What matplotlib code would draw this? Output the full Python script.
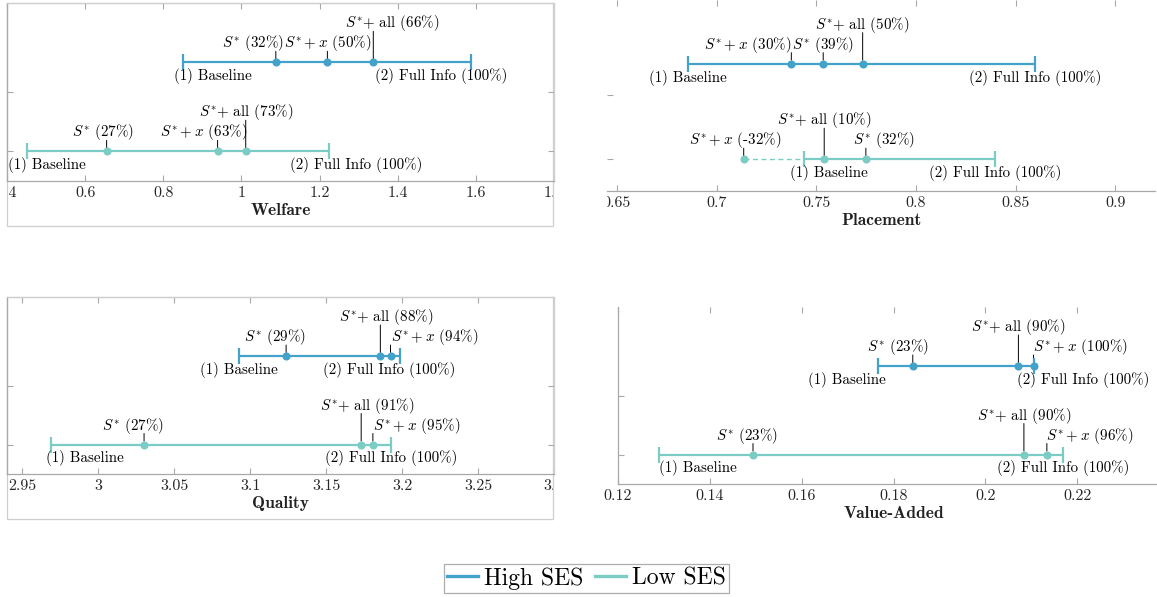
import matplotlib
matplotlib.use('Agg')
import matplotlib.pyplot as plt
from matplotlib.lines import Line2D
from matplotlib.patches import Rectangle
from matplotlib.transforms import Bbox, TransformedBbox

plt.rcParams['font.family'] = ['cmr10']
plt.rcParams['mathtext.fontset'] = 'cm'
plt.rcParams['axes.formatter.use_mathtext'] = True
plt.rcParams['axes.unicode_minus'] = False

W, H = 1157, 597
BLUE = '#43a2ca'
TEAL = '#7bccc4'
SPINE = '#a8a8a8'
SPINE_LIGHT = '#cfcfcf'
TICKTXT = '#262626'
FS = 10.8

groups = ['High SES', 'Low SES']

# ---------------- data (index 0 = High SES, 1 = Low SES) ----------------
welfare_baseline = [0.850, 0.451]
welfare_full = [1.588, 1.223]
welfare_sstar = [1.088, 0.655]
welfare_sx = [1.220, 0.939]
welfare_sall = [1.3375, 1.011]
welfare_pct_sstar = [32, 27]
welfare_pct_sx = [50, 63]
welfare_pct_sall = [66, 73]
welfare_ticks = [0.4, 0.6, 0.8, 1.0, 1.2, 1.4, 1.6, 1.8]
welfare_ticklabels = ['0.4', '0.6', '0.8', '1', '1.2', '1.4', '1.6', '1.8']

placement_baseline = [0.6857, 0.7438]
placement_full = [0.8597, 0.8396]
placement_sstar = [0.7535, 0.7749]
placement_sx = [0.7375, 0.7136]
placement_sall = [0.7733, 0.7540]
placement_pct_sstar = [39, 32]
placement_pct_sx = [30, -32]
placement_pct_sall = [50, 10]
placement_ticks = [0.65, 0.7, 0.75, 0.8, 0.85, 0.9]
placement_ticklabels = ['0.65', '0.7', '0.75', '0.8', '0.85', '0.9']

quality_baseline = [3.0929, 2.9688]
quality_full = [3.1989, 3.1929]
quality_sstar = [3.1237, 3.0302]
quality_sx = [3.1924, 3.1808]
quality_sall = [3.1857, 3.1731]
quality_pct_sstar = [29, 27]
quality_pct_sx = [94, 95]
quality_pct_sall = [88, 91]
quality_ticks = [2.95, 3.0, 3.05, 3.1, 3.15, 3.2, 3.25, 3.3]
quality_ticklabels = ['2.95', '3', '3.05', '3.1', '3.15', '3.2', '3.25', '3.3']

va_baseline = [0.1766, 0.1290]
va_full = [0.2106, 0.2170]
va_sstar = [0.1842, 0.1494]
va_sx = [0.2105, 0.2134]
va_sall = [0.2072, 0.2084]
va_pct_sstar = [23, 23]
va_pct_sx = [100, 96]
va_pct_sall = [90, 90]
va_ticks = [0.12, 0.14, 0.16, 0.18, 0.20, 0.22]
va_ticklabels = ['0.12', '0.14', '0.16', '0.18', '0.2', '0.22']

# ---------------- layout (label offsets in pixels; level 1 short, 2 tall) ----------------
welfare_layout = {'sstar': [(-23, 1), (-4, 1)], 'sx': [(0, 1), (-14, 1)],
                  'sall': [(19, 2), (0, 2)], 'base': [30, 20], 'full': [-30, 28]}
placement_layout = {'sstar': [(0, 1), (18, 1)], 'sx': [(-44, 1), (-9, 1)],
                    'sall': [(-1, 2), (0, 2)], 'base': [0, 25], 'full': [0, 0]}
quality_layout = {'sstar': [(-11, 1), (-11, 1)], 'sx': [(44, 1), (44, 1)],
                  'sall': [(6, 2), (6, 2)], 'base': [0, 34], 'full': [-11, 0]}
va_layout = {'sstar': [(-15, 1), (-6, 1)], 'sx': [(47, 1), (43, 1)],
             'sall': [(0, 2), (0, 2)], 'base': [-31, 39], 'full': [49, 0]}

ROWS = [2.5, 1.0]
COLORS = [BLUE, TEAL]
LEVEL_DY = {1: 15, 2: 35}
LEADER_TOP = {1: 11, 2: 31}

fig = plt.figure(figsize=(W / 100, H / 100), dpi=100)


def px_axes(x0, y0, x1, y1):
    return fig.add_axes([x0 / W, 1 - y1 / H, (x1 - x0) / W, (y1 - y0) / H])


def frame(x0, y0, x1, y1):
    fig.add_artist(Rectangle((x0 / W, 1 - y1 / H), (x1 - x0) / W, (y1 - y0) / H,
                             transform=fig.transFigure, fill=False,
                             ec=SPINE_LIGHT, lw=0.9, zorder=0))


def style_axes(ax, xlim, ticks, ticklabels, xlabel, show_top=True, show_left=True,
               show_right=True, clip=None):
    ax.set_xlim(*xlim)
    ax.set_ylim(0.5, 3.5)
    ax.set_xticks(ticks, ticklabels)
    ax.set_yticks([1, 2], ['', ''])
    ax.tick_params(axis='both', direction='in', length=4.5, width=0.8, color=SPINE,
                   labelsize=11.5, labelcolor=TICKTXT, pad=4,
                   top=True, right=show_right)
    ax.spines['bottom'].set_color(SPINE)
    ax.spines['left'].set_color(SPINE)
    ax.spines['top'].set_color(SPINE_LIGHT)
    ax.spines['right'].set_color(SPINE_LIGHT)
    for s in ax.spines.values():
        s.set_linewidth(0.9)
    ax.spines['top'].set_visible(show_top)
    ax.spines['left'].set_visible(show_left)
    ax.spines['right'].set_visible(show_right)
    ax.set_xlabel(xlabel, fontsize=12.5, family='cmb10', color='#222222', labelpad=2)
    ax.set_facecolor('none')
    if clip is not None:
        cb = TransformedBbox(Bbox.from_extents(clip[0] / W, 0, clip[1] / W, 1), fig.transFigure)
        for lab in ax.get_xticklabels():
            lab.set_clip_box(cb)
            lab.set_clip_on(True)


def draw_panel(ax, base, full, sstar, sx, sall, p_sstar, p_sx, p_sall, layout):
    for i in range(2):
        y = ROWS[i]
        c = COLORS[i]
        ax.plot([base[i], full[i]], [y, y], color=c, lw=1.6, solid_capstyle='butt', zorder=2)
        ax.plot([base[i], full[i]], [y, y], ls='none', marker='|', ms=11, mew=1.6,
                color=c, zorder=3)
        lo = min(sstar[i], sx[i], sall[i])
        if lo < base[i]:
            ax.plot([lo, base[i]], [y, y], color=c, lw=1.0, ls=(0, (3.6, 2.5)), zorder=2)
        ax.plot([sstar[i], sx[i], sall[i]], [y, y, y], ls='none', marker='o', ms=4.8,
                color=c, mec=c, zorder=4)
        items = [
            ('sstar', sstar[i], r'$S^{*}$ (%d%%)' % p_sstar[i]),
            ('sx', sx[i], r'$S^{*}+x$ (%d%%)' % p_sx[i]),
            ('sall', sall[i], r'$S^{*}$+ all (%d%%)' % p_sall[i]),
        ]
        for key, xv, txt in items:
            dx, lvl = layout[key][i]
            ax.annotate(txt, xy=(xv, y), xytext=(dx, LEVEL_DY[lvl]),
                        textcoords='offset pixels', ha='center', va='baseline',
                        fontsize=FS, color='k', annotation_clip=False, zorder=5)
            ax.annotate('', xy=(xv, y), xytext=(0, LEADER_TOP[lvl]),
                        textcoords='offset pixels',
                        arrowprops=dict(arrowstyle='-', lw=0.7, color='k',
                                        shrinkA=0, shrinkB=2.5),
                        annotation_clip=False, zorder=1)
        ax.annotate('(1) Baseline', xy=(base[i], y), xytext=(layout['base'][i], -18),
                    textcoords='offset pixels', ha='center', va='baseline',
                    fontsize=FS, color='k', annotation_clip=False)
        ax.annotate('(2) Full Info (100%)', xy=(full[i], y), xytext=(layout['full'][i], -18),
                    textcoords='offset pixels', ha='center', va='baseline',
                    fontsize=FS, color='k', annotation_clip=False)


# Welfare (top-left)
frame(7, 3, 553, 226)
ax1 = px_axes(7, 3, 554, 181)
style_axes(ax1, (0.4, 1.8), welfare_ticks, welfare_ticklabels, 'Welfare', clip=(7, 553))
draw_panel(ax1, welfare_baseline, welfare_full, welfare_sstar, welfare_sx, welfare_sall,
           welfare_pct_sstar, welfare_pct_sx, welfare_pct_sall, welfare_layout)

# Placement (top-right)
ax2 = px_axes(607, 0, 1155, 191)
style_axes(ax2, (0.645, 0.92), placement_ticks, placement_ticklabels, 'Placement',
           show_top=False, show_left=False, show_right=False, clip=(607, 1157))
draw_panel(ax2, placement_baseline, placement_full, placement_sstar, placement_sx,
           placement_sall, placement_pct_sstar, placement_pct_sx, placement_pct_sall,
           placement_layout)

# Quality (bottom-left)
frame(7, 297, 553, 519)
ax3 = px_axes(7, 297, 554, 474)
style_axes(ax3, (2.94, 3.30), quality_ticks, quality_ticklabels, 'Quality', clip=(7, 553))
draw_panel(ax3, quality_baseline, quality_full, quality_sstar, quality_sx, quality_sall,
           quality_pct_sstar, quality_pct_sx, quality_pct_sall, quality_layout)

# Value-Added (bottom-right)
ax4 = px_axes(618, 307, 1169, 484)
style_axes(ax4, (0.12, 0.24), va_ticks, va_ticklabels, 'Value-Added',
           show_top=False, show_right=False)
draw_panel(ax4, va_baseline, va_full, va_sstar, va_sx, va_sall,
           va_pct_sstar, va_pct_sx, va_pct_sall, va_layout)

handles = [Line2D([], [], color=BLUE, lw=2.4), Line2D([], [], color=TEAL, lw=2.4)]
leg = fig.legend(handles, groups, loc='center', bbox_to_anchor=(586.5 / W, 18.5 / H),
                 ncol=2, fontsize=17, frameon=True, fancybox=False, edgecolor='#9a9a9a',
                 handlelength=1.3, handletextpad=0.25, columnspacing=0.5,
                 borderpad=0.15, borderaxespad=0)
leg.get_frame().set_linewidth(0.9)

fig.savefig('out.png', dpi=100)
